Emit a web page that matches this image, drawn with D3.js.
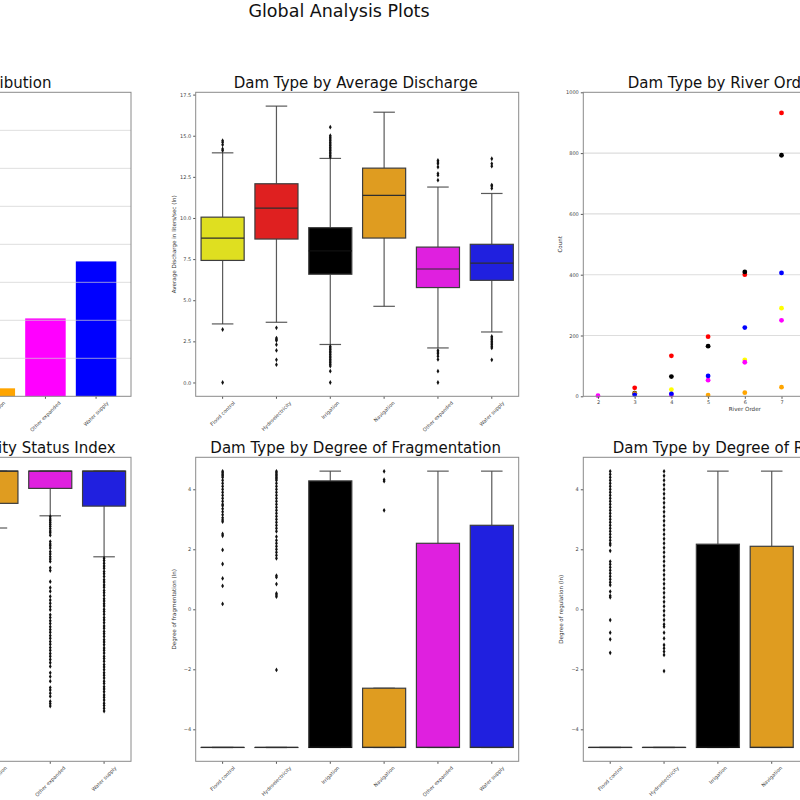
<!DOCTYPE html>
<html><head><meta charset="utf-8">
<script src="https://cdn.jsdelivr.net/npm/d3@7"></script>
<style>
body{margin:0;background:#fff;overflow:hidden}
svg{display:block;font-family:"DejaVu Sans",sans-serif;overflow:hidden}
</style>
</head><body><svg id="c" width="800" height="800"></svg>
<script>
// ---------------- data ----------------
const categories = ["Flood control","Hydroelectricity","Irrigation","Navigation","Other expanded","Water supply"];
const pointColors = ["yellow","red","black","orange","magenta","blue"];
const boxColors = ["#dfdf20","#df2020","#000000","#df9c20","#df20df","#2020df"];

// Panel 1: counts per dam type
const damCounts = [450,1524,1450,42,410,710];
const countTicks = [0,200,400,600,800,1000,1200,1400,1600];

// Panel 2: average discharge (ln) box stats [whiskerLow, q1, median, q3, whiskerHigh]
const dischargeBoxes = [
  [3.56, 7.42, 8.78, 10.05, 13.96],
  [3.66, 8.72, 10.6, 12.08, 16.8],
  [2.31, 6.58, 8.0, 9.41, 13.62],
  [4.63, 8.78, 11.37, 13.03, 16.43],
  [2.1, 5.77, 6.9, 8.23, 11.88],
  [3.07, 6.21, 7.26, 8.4, 11.49]
];
const dischargeOutliers = [
  [14.1, 14.2, 14.45, 14.6, 14.7, 3.22, 0.0],
  [3.32, 2.7, 2.62, 2.55, 2.3, 1.95, 1.38, 1.08],
  [13.7, 13.8, 13.9, 14.0, 14.1, 14.2, 14.3, 14.4, 14.5, 14.6, 14.7, 14.8, 14.9, 15.0, 15.52,
   2.2, 2.1, 2.0, 1.9, 1.8, 1.7, 1.6, 1.5, 1.4, 1.3, 1.2, 1.1, 1.0, 0.69, 0.0],
  [],
  [12.3, 12.6, 12.7, 13.1, 13.3, 13.4, 13.5, 1.95, 1.85, 1.75, 1.6, 1.4, 0.69, 0.0],
  [11.8, 11.95, 12.0, 13.15, 13.3, 13.6, 2.8, 2.7, 2.6, 2.5, 2.4, 2.3, 2.2, 2.1, 1.38]
];
const dischargeTicks = [0,2.5,5,7.5,10,12.5,15,17.5];

// Panel 3: river order counts (null = no visible point)
const riverOrders = [2,3,4,5,6,7];
const riverOrderTicks = [2,3,4,5,6,7,8,9,10];
const orderCounts = [
  [null, null, 22, null, 120, 290],
  [null, 28, 133, 196, 400, 932],
  [null, 10, 65, 165, 409, 793],
  [null, 9, null, 4, 12, 30],
  [2, null, 4, 53, 112, 250],
  [null, 5, 8, 67, 226, 406]
];
const orderCountTicks = [0,200,400,600,800,1000];

// Panel 4: connectivity status index box stats
const csiBoxes = [
  [85, 95, 100, 100, 100],
  [80, 93, 99, 100, 100],
  [84, 94, 100, 100, 100],
  [87.65, 93.0, 100, 100, 100],
  [90.3, 96.25, 100, 100, 100],
  [81.4, 92.4, 100, 100, 100]
];
const csiOutliers = [
  [40, 45, 52, 60, 70, 78],
  [42, 50, 58, 66, 74],
  [44, 55, 65, 75],
  [],
  [90.1, 89.6, 89.2, 88.8, 88.4, 88.0, 87.5, 87.0, 86.6, 86.1, 84.7, 84.2, 83.8, 83.3, 82.5, 82.0,
   81.4, 80.9, 80.4, 79.0, 78.4, 76.0, 74.7, 73.9, 72.8, 72.0, 71.3, 70.6, 69.9, 68.8, 68.2, 67.5,
   66.9, 66.2, 65.6, 65.0, 64.3, 63.7, 63.0, 62.4, 61.7, 61.1, 60.4, 59.8, 59.1, 58.4, 57.6, 56.2,
   55.4, 54.4, 53.0, 52.5, 51.8, 51.1, 50.0, 49.5, 49.0],
  [81.1, 80.6, 80.0, 79.4, 78.9, 78.2, 77.7, 77.1, 76.4, 75.9, 75.3, 74.8, 74.1, 73.6, 73.0, 72.3,
   71.8, 71.2, 70.7, 70.0, 69.5, 68.9, 68.2, 67.7, 67.1, 66.4, 65.9, 65.2, 64.7, 64.1, 63.4, 62.9,
   62.3, 61.6, 61.1, 60.5, 59.8, 59.3, 58.7, 58.0, 57.5, 56.9, 56.2, 55.7, 55.1, 54.4, 53.9, 53.2,
   52.7, 52.1, 51.4, 50.9, 50.3, 49.6, 49.1, 48.5, 47.9]
];

// Panel 5: degree of fragmentation (ln)
const fragBoxes = [
  [-4.605, -4.605, -4.605, -4.605, -4.605],
  [-4.605, -4.605, -4.605, -4.605, -4.605],
  [-4.605, -4.605, -4.605, 4.28, 4.605],
  [-4.605, -4.605, -4.605, -2.63, -2.63],
  [-4.605, -4.605, -4.605, 2.2, 4.605],
  [-4.605, -4.605, -4.605, 2.8, 4.605]
];
const fragOutliers = [
  [4.6, 4.55, 4.5, 4.45, 4.4, 4.3, 4.2, 4.1, 4.0, 3.9, 3.8, 3.7, 3.6, 3.5, 3.45, 3.35, 3.25, 3.15,
   3.05, 2.98, 2.92, 2.51, 2.45, 1.98, 1.51, 1.03, 0.78, 0.18],
  [4.6, 4.55, 4.5, 4.45, 4.4, 4.35, 4.3, 4.2, 4.1, 4.0, 3.9, 3.8, 3.7, 3.6, 3.5, 3.4, 3.3, 3.2, 3.1,
   3.0, 2.9, 2.8, 2.7, 2.6, 2.42, 2.3, 2.2, 2.1, 2.0, 1.9, 1.8, 1.7, 1.12, 1.07, 0.84, 0.53, 0.48,
   0.42, -2.02],
  [],
  [4.6, 4.32, 4.27, 3.3],
  [],
  []
];

// Panel 6: degree of regulation (ln)
const regBoxes = [
  [-4.605, -4.605, -4.605, -4.605, -4.605],
  [-4.605, -4.605, -4.605, -4.605, -4.605],
  [-4.605, -4.605, -4.605, 2.17, 4.605],
  [-4.605, -4.605, -4.605, 2.1, 4.605],
  [-4.605, -4.605, -4.605, 2.4, 4.605],
  [-4.605, -4.605, -4.605, 2.6, 4.605]
];
const regOutliers = [
  [4.6, 4.5, 4.4, 4.3, 4.2, 4.1, 4.0, 3.9, 3.8, 3.7, 3.6, 3.5, 3.4, 3.3, 3.2, 3.1, 3.0, 2.9, 2.8,
   2.7, 2.6, 2.5, 2.4, 2.3, 2.2, 2.14, 1.95, 1.59, 1.5, 1.4, 1.3, 1.2, 1.1, 1.0, 0.9, 0.81, 0.59,
   0.45, 0.4, -0.36, -0.78, -1.0, -1.45],
  [4.6, 4.45, 4.3, 4.15, 4.0, 3.85, 3.7, 3.55, 3.4, 3.25, 3.1, 2.95, 2.8, 2.65, 2.5, 2.35, 2.2,
   2.05, 1.9, 1.75, 1.6, 1.45, 1.3, 1.15, 1.0, 0.85, 0.7, 0.55, 0.4, 0.25, 0.1, -0.05, -0.2, -0.35,
   -0.5, -0.58, -0.78, -0.97, -1.19, -1.3, -1.41, -1.52, -2.06],
  [], [], [], []
];
const lnTicks = [-4,-2,0,2,4];

// ---------------- layout ----------------
const svg = d3.select("#c");
const W = 323, H = 304;
const colX = [-192, 195.7, 583.3];
const rowY = [92.3, 457.3];
const tickFont = 5, labelFont = 5.6, titleFont = 15;

svg.append("text").attr("x", 339).attr("y", 16.7).attr("text-anchor","middle")
  .attr("font-size", 17.5).attr("fill","#111").text("Global Analysis Plots");

function panel(ci, ri, title, startX){
  const g = svg.append("g").attr("transform", `translate(${colX[ci]},${rowY[ri]})`);
  const t = g.append("text").attr("y", -4).attr("font-size", titleFont).attr("fill","#111").text(title);
  if (startX === undefined) t.attr("x", W/2 - 1.5).attr("text-anchor","middle");
  else t.attr("x", startX).attr("text-anchor","start");
  return g;
}
function frame(g){
  g.append("rect").attr("width", W).attr("height", H).attr("fill","none")
    .attr("stroke","#8a8a8a").attr("stroke-width",1);
}
function yAxis(g, y, ticks, fmt){
  const ax = g.append("g").call(d3.axisLeft(y).tickValues(ticks).tickSize(2.5).tickPadding(2).tickFormat(fmt));
  ax.select(".domain").remove();
  ax.selectAll("line").attr("stroke","#555");
  ax.selectAll("text").attr("font-size", tickFont).attr("fill","#444").attr("font-family","DejaVu Sans");
}
function xCatAxis(g, x){
  const ax = g.append("g").attr("transform", `translate(0,${H})`);
  categories.forEach((c,i)=>{
    const px = x(i);
    ax.append("line").attr("x1",px).attr("x2",px).attr("y1",0).attr("y2",2.5).attr("stroke","#555");
    const t = ax.append("text").attr("font-size", tickFont).attr("fill","#444").attr("text-anchor","middle").text(c);
    const len = t.node().getComputedTextLength();
    const half = (len + tickFont) * 0.7071 / 2;
    t.attr("transform", `translate(${px},${4 + half}) rotate(-45)`).attr("dy","0.35em");
  });
}
function yLabel(g, text){
  g.append("text").attr("transform", `translate(-20,${H/2}) rotate(-90)`).attr("text-anchor","middle")
    .attr("font-size", labelFont).attr("fill","#333").text(text);
}
const diamond = "M0,-2.4L1.4,0L0,2.4L-1.4,0Z";
function boxes(g, x, y, stats, outliers){
  const bw = 0.8*(x(1)-x(0));
  stats.forEach((s,i)=>{
    const cx = x(i);
    const [lo,q1,md,q3,hi] = s;
    const gr = "#3d3d3d";
    g.append("line").attr("x1",cx).attr("x2",cx).attr("y1",y(q3)).attr("y2",y(hi)).attr("stroke",gr).attr("stroke-width",1.2).attr("stroke-opacity",0.85);
    g.append("line").attr("x1",cx).attr("x2",cx).attr("y1",y(q1)).attr("y2",y(lo)).attr("stroke",gr).attr("stroke-width",1.2).attr("stroke-opacity",0.85);
    [lo,hi].forEach(v=>g.append("line").attr("x1",cx-bw/4).attr("x2",cx+bw/4).attr("y1",y(v)).attr("y2",y(v))
      .attr("stroke",gr).attr("stroke-width",1.2).attr("stroke-opacity",0.85));
    g.append("rect").attr("x",cx-bw/2).attr("width",bw).attr("y",y(q3)).attr("height",Math.max(0.01,y(q1)-y(q3)))
      .attr("fill",boxColors[i]).attr("stroke",gr).attr("stroke-width",1.2);
    g.append("line").attr("x1",cx-bw/2).attr("x2",cx+bw/2).attr("y1",y(md)).attr("y2",y(md))
      .attr("stroke", boxColors[i] === "#000000" ? "#101010" : "#2e2e2e").attr("stroke-width",1.2);
    (outliers[i]||[]).forEach(v=>g.append("path").attr("d",diamond).attr("transform",`translate(${cx},${y(v)})`).attr("fill","#111"));
  });
}

// ---------- Panel 1: bar chart ----------
{
  const g = panel(0,0,"Dam Type Distribution");
  const x = d3.scaleLinear().domain([-0.69, 5.69]).range([0, W]);
  const y = d3.scaleLinear().domain([0, d3.max(damCounts)*1.05]).range([H, 0]);
  damCounts.forEach((v,i)=>{
    g.append("rect").attr("x",x(i-0.4)).attr("width",x(0.4)-x(-0.4)).attr("y",y(v)).attr("height",H-y(v)).attr("fill",pointColors[i]);
  });
  countTicks.slice(1,-1).forEach(t=>g.append("line").attr("x1",0).attr("x2",W).attr("y1",y(t)).attr("y2",y(t))
    .attr("stroke","#d0d0d0").attr("stroke-opacity",0.7).attr("stroke-width",1));
  yAxis(g, y, countTicks, d3.format("d"));
  xCatAxis(g, x);
  yLabel(g, "Count");
  frame(g);
}
// ---------- Panel 2: discharge ----------
{
  const g = panel(1,0,"Dam Type by Average Discharge");
  const x = d3.scaleLinear().domain([-0.5,5.5]).range([0,W]);
  const y = d3.scaleLinear().domain([-0.84,17.64]).range([H,0]);
  boxes(g,x,y,dischargeBoxes,dischargeOutliers);
  yAxis(g,y,dischargeTicks,d3.format(".1f"));
  xCatAxis(g,x);
  yLabel(g,"Average Discharge in liters/sec (ln)");
  frame(g);
}
// ---------- Panel 3: river order scatter ----------
{
  const g = panel(2,0,"Dam Type by River Order", 44.4);
  const x = d3.scaleLinear().domain([1.6,10.4]).range([0,W]);
  const y = d3.scaleLinear().domain([0,1000]).range([H,0]);
  orderCountTicks.slice(1,-1).forEach(t=>g.append("line").attr("x1",0).attr("x2",W).attr("y1",y(t)).attr("y2",y(t))
    .attr("stroke","#dddddd").attr("stroke-width",1.1));
  orderCounts.forEach((arr,ci)=>arr.forEach((v,k)=>{
    if(v===null) return;
    g.append("circle").attr("cx",x(riverOrders[k])).attr("cy",y(v)).attr("r",2.4).attr("fill",pointColors[ci]);
  }));
  yAxis(g,y,orderCountTicks,d3.format("d"));
  const ax = g.append("g").attr("transform",`translate(0,${H})`).call(d3.axisBottom(x).tickValues(riverOrderTicks).tickSize(2.5).tickPadding(2).tickFormat(d3.format("d")));
  ax.select(".domain").remove();
  ax.selectAll("line").attr("stroke","#555");
  ax.selectAll("text").attr("font-size",tickFont).attr("fill","#444").attr("font-family","DejaVu Sans");
  g.append("text").attr("x",W/2).attr("y",H+15).attr("text-anchor","middle").attr("font-size",labelFont).attr("fill","#333").text("River Order");
  g.append("text").attr("transform",`translate(-21,${H/2}) rotate(-90)`).attr("text-anchor","middle").attr("font-size",labelFont).attr("fill","#333").text("Count");
  frame(g);
}
// ---------- Panel 4: CSI ----------
{
  const g = panel(0,1,"Dam Type by Connectivity Status Index");
  const x = d3.scaleLinear().domain([-0.5,5.5]).range([0,W]);
  const y = d3.scaleLinear().domain([37,103]).range([H,0]);
  boxes(g,x,y,csiBoxes,csiOutliers);
  yAxis(g,y,[40,50,60,70,80,90,100],d3.format("d"));
  xCatAxis(g,x);
  yLabel(g,"Connectivity Status Index");
  frame(g);
}
// ---------- Panel 5: fragmentation ----------
{
  const g = panel(1,1,"Dam Type by Degree of Fragmentation");
  const x = d3.scaleLinear().domain([-0.5,5.5]).range([0,W]);
  const y = d3.scaleLinear().domain([-5.066,5.066]).range([H,0]);
  boxes(g,x,y,fragBoxes,fragOutliers);
  yAxis(g,y,lnTicks,d3.format("d"));
  xCatAxis(g,x);
  yLabel(g,"Degree of fragmentation (ln)");
  frame(g);
}
// ---------- Panel 6: regulation ----------
{
  const g = panel(2,1,"Dam Type by Degree of Regulation");
  const x = d3.scaleLinear().domain([-0.5,5.5]).range([0,W]);
  const y = d3.scaleLinear().domain([-5.066,5.066]).range([H,0]);
  boxes(g,x,y,regBoxes,regOutliers);
  yAxis(g,y,lnTicks,d3.format("d"));
  xCatAxis(g,x);
  yLabel(g,"Degree of regulation (ln)");
  frame(g);
}
</script>
</body></html>
